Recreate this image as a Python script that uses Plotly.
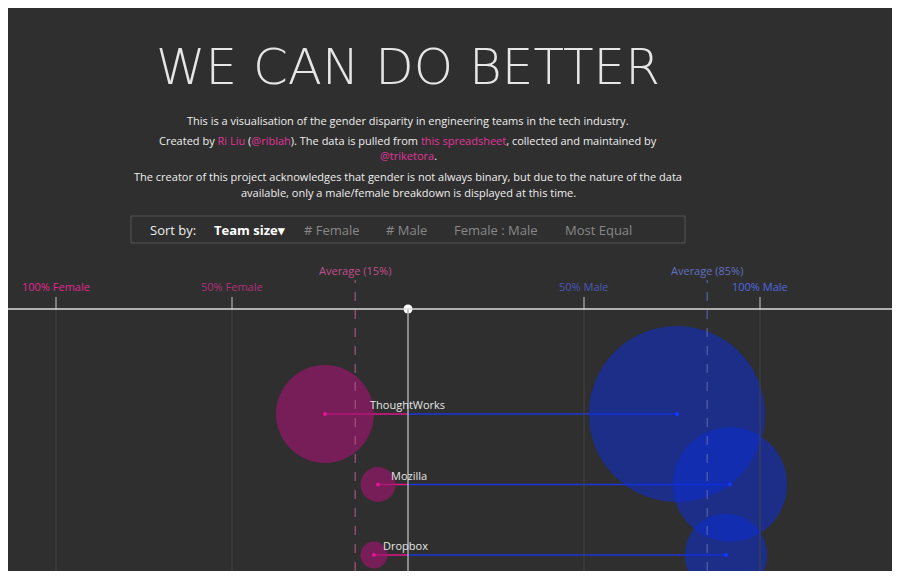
import numpy as np
import plotly.graph_objects as go

# team data
companies = ['ThoughtWorks', 'Mozilla', 'Dropbox']
female = [236, 30, 18]
male = [764, 322, 168]
avg_female_pct = 15
avg_male_pct = 85

female = np.array(female)
male = np.array(male)
total = female + male
f_pct = female / total * 100
m_pct = male / total * 100
rank = np.arange(len(companies))

k = 6.37  # px diameter per sqrt(person)
f_size = k * np.sqrt(female)
m_size = k * np.sqrt(male)

BG = '#2f2f2f'
PINK = '#e0158f'
FONT = 'Open Sans'

# the page adds an 8px body margin, so work in reference pixels shifted by 8
OFF = 8
W, H = 900 - 2 * OFF, 579 - 2 * OFF
CX = 408 - OFF      # pixel of 0%
ROW0 = 414 - OFF    # pixel of first row
PXPCT = 3.52
ROWH = 70.5

def py(p):  # reference pixel row -> paper y
    return 1 - (p - OFF) / H

def pxr(p):  # reference pixel column -> paper x
    return (p - OFF) / W

fig = go.Figure()

# connector lines
for i in range(len(companies)):
    fig.add_trace(go.Scatter(x=[-f_pct[i], 0], y=[rank[i]] * 2, mode='lines',
                             line=dict(color=PINK, width=1.5), hoverinfo='skip'))
    fig.add_trace(go.Scatter(x=[0, m_pct[i]], y=[rank[i]] * 2, mode='lines',
                             line=dict(color='#1a36d8', width=1.5), hoverinfo='skip'))

fig.add_trace(go.Scatter(x=m_pct, y=rank, mode='markers',
                         marker=dict(size=m_size, sizemode='diameter', color='rgba(12,45,215,0.75)', line=dict(width=0)),
                         text=companies, hovertemplate='%{text}: %{x:.0f}% male<extra></extra>'))
fig.add_trace(go.Scatter(x=-f_pct, y=rank, mode='markers',
                         marker=dict(size=f_size, sizemode='diameter', color='rgba(160,20,110,0.92)', line=dict(width=0)),
                         text=companies, hovertemplate='%{text}: %{customdata:.0f}% female<extra></extra>',
                         customdata=f_pct))
fig.add_trace(go.Scatter(x=list(-f_pct), y=rank, mode='markers', marker=dict(size=4, color=PINK), hoverinfo='skip'))
fig.add_trace(go.Scatter(x=list(m_pct), y=rank, mode='markers', marker=dict(size=4, color='#1238ff'), hoverinfo='skip'))

for i, name in enumerate(companies):
    fig.add_annotation(x=-f_pct[i], y=rank[i], text=name, showarrow=False, xanchor='left', yanchor='bottom',
                       xshift=f_size[i] / 2 - 6, yshift=0, font=dict(family=FONT, size=11, color='#e6e6e6'))

shapes = []
# grid lines and ticks
for v in [-100, -50, 50, 100]:
    shapes.append(dict(type='line', xref='x', yref='paper', x0=v, x1=v, y0=0, y1=py(309),
                       line=dict(color='#454545', width=1)))
    shapes.append(dict(type='line', xref='x', yref='paper', x0=v, x1=v, y0=py(309), y1=py(297),
                       line=dict(color='#cccccc', width=1)))
shapes.append(dict(type='line', xref='x', yref='paper', x0=0, x1=0, y0=0, y1=py(309),
                   line=dict(color='#aaaaaa', width=1.5)))
shapes.append(dict(type='line', xref='x', yref='paper', x0=-avg_female_pct, x1=-avg_female_pct, y0=0, y1=py(280),
                   line=dict(color='#a0557e', width=1.2, dash='dash')))
shapes.append(dict(type='line', xref='x', yref='paper', x0=avg_male_pct, x1=avg_male_pct, y0=0, y1=py(280),
                   line=dict(color='#5560a8', width=1.2, dash='dash')))
shapes.append(dict(type='line', xref='paper', yref='paper', x0=0, x1=1, y0=py(309), y1=py(309),
                   line=dict(color='#dddddd', width=1.5)))
# sort-by box
shapes.append(dict(type='rect', xref='paper', yref='paper', x0=pxr(131), x1=pxr(685), y0=py(243), y1=py(216),
                   line=dict(color='#555555', width=1)))
fig.update_layout(shapes=shapes)

fig.add_trace(go.Scatter(x=[0], y=[-(414 - 309) / ROWH], mode='markers',
                         marker=dict(size=9, color='white'), hoverinfo='skip'))

# axis labels
for v, lab, col in [(-100, '100% Female', '#e0288f'), (-50, '50% Female', '#b0307a'),
                    (50, '50% Male', '#4a58b8'), (100, '100% Male', '#5068e0')]:
    fig.add_annotation(x=v, y=py(286), yref='paper', text=lab, showarrow=False,
                       font=dict(family=FONT, size=11, color=col))
fig.add_annotation(x=-avg_female_pct, y=py(270), yref='paper', text=f'Average ({avg_female_pct}%)', showarrow=False,
                   font=dict(family=FONT, size=11, color='#c0508c'))
fig.add_annotation(x=avg_male_pct, y=py(270), yref='paper', text=f'Average ({avg_male_pct}%)', showarrow=False,
                   font=dict(family=FONT, size=11, color='#6070c0'))

# header text
fig.add_annotation(x=pxr(408), y=py(36), xref='paper', yref='paper', text='WE CAN DO BETTER', showarrow=False,
                   font=dict(family='DejaVu Sans ExtraLight, DejaVu Sans Light, Lato', size=50, color='#e6e6e6'))
M = '#e0359a'
lines = [
    (111, 'This is a visualisation of the gender disparity in engineering teams in the tech industry.'),
    (131, f'Created by <span style="color:{M}">Ri Liu</span> (<span style="color:{M}">@riblah</span>). The data is pulled from <span style="color:{M}">this spreadsheet</span>, collected and maintained by'),
    (146, f'<span style="color:{M}">@triketora</span>.'),
    (167, 'The creator of this project acknowledges that gender is not always binary, but due to the nature of the data'),
    (183, 'available, only a male/female breakdown is displayed at this time.'),
]
for yp, t in lines:
    fig.add_annotation(x=pxr(408), y=py(yp), xref='paper', yref='paper', text=t, showarrow=False,
                       font=dict(family=FONT, size=11, color='#eeeeee'))
sort_items = [(148, 'Sort by:', '#eeeeee'), (212, '<b>Team size▾</b>', '#ffffff'),
              (302, '# Female', '#888888'), (384, '# Male', '#888888'),
              (452, 'Female : Male', '#888888'), (563, 'Most Equal', '#888888')]
for xp, t, c in sort_items:
    fig.add_annotation(x=pxr(xp), y=py(230), xref='paper', yref='paper', text=t, showarrow=False, xanchor='left',
                       font=dict(family=FONT, size=13, color=c))

fig.update_layout(
    width=W, height=H, margin=dict(l=0, r=0, t=0, b=0),
    paper_bgcolor=BG, plot_bgcolor=BG, showlegend=False,
    xaxis=dict(range=[-CX / PXPCT, (W - CX) / PXPCT], visible=False, fixedrange=True),
    yaxis=dict(range=[(H - ROW0) / ROWH, -ROW0 / ROWH], visible=False, fixedrange=True),
)
fig.write_html('out.html')
